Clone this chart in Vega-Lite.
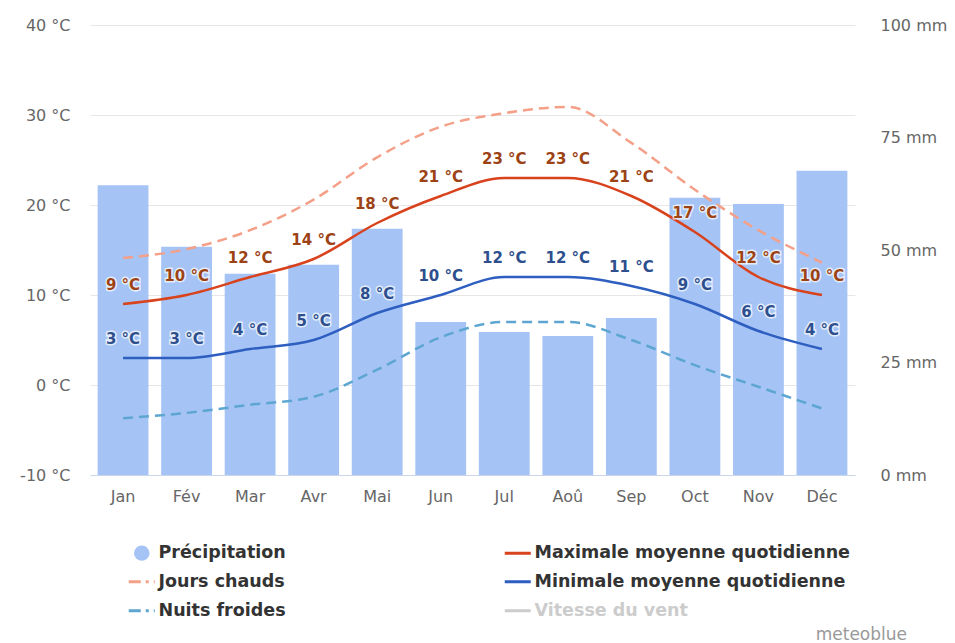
{
  "$schema": "https://vega.github.io/schema/vega-lite/v6.json",
  "width": 765,
  "height": 450,
  "autosize": {"type": "none"},
  "padding": {"left": 90, "top": 25, "right": 100, "bottom": 168},
  "background": "white",
  "config": {
    "view": {"stroke": null},
    "font": "DejaVu Sans",
    "axis": {"title": null, "labelFont": "DejaVu Sans", "labelFontSize": 16, "labelColor": "#666666", "ticks": false, "domain": false}
  },
  "title": {"text": "meteoblue", "orient": "bottom", "anchor": "end", "frame": "group", "font": "DejaVu Sans", "fontSize": 17, "fontWeight": "normal", "color": "#999999", "dx": 52, "offset": 7},
  "data": {
    "values": [
      {"month": "Jan", "precip": 64.4, "tmax": 9, "tmin": 3, "hot": 14.1, "cold": -3.7},
      {"month": "Fév", "precip": 50.7, "tmax": 10, "tmin": 3, "hot": 15.1, "cold": -3.1},
      {"month": "Mar", "precip": 44.7, "tmax": 12, "tmin": 4, "hot": 17.2, "cold": -2.2},
      {"month": "Avr", "precip": 46.7, "tmax": 14, "tmin": 5, "hot": 20.6, "cold": -1.3},
      {"month": "Mai", "precip": 54.7, "tmax": 18, "tmin": 8, "hot": 25.3, "cold": 1.7},
      {"month": "Jun", "precip": 34.0, "tmax": 21, "tmin": 10, "hot": 28.7, "cold": 5.3},
      {"month": "Jul", "precip": 31.8, "tmax": 23, "tmin": 12, "hot": 30.2, "cold": 7.0},
      {"month": "Aoû", "precip": 30.9, "tmax": 23, "tmin": 12, "hot": 30.9, "cold": 7.0},
      {"month": "Sep", "precip": 34.9, "tmax": 21, "tmin": 11, "hot": 26.9, "cold": 5.0},
      {"month": "Oct", "precip": 61.6, "tmax": 17, "tmin": 9, "hot": 21.7, "cold": 2.2},
      {"month": "Nov", "precip": 60.2, "tmax": 12, "tmin": 6, "hot": 17.2, "cold": -0.2},
      {"month": "Déc", "precip": 67.6, "tmax": 10, "tmin": 4, "hot": 13.6, "cold": -2.6}
    ]
  },
  "encoding": {
    "x": {
      "field": "month",
      "type": "nominal",
      "sort": null,
      "scale": {"paddingInner": 0.2, "paddingOuter": 0.12},
      "axis": {"labelAngle": 0, "domain": true, "domainColor": "#ccd6eb", "labelPadding": 13, "grid": false}
    }
  },
  "layer": [
    {
      "mark": {"type": "bar"},
      "encoding": {
        "y": {
          "field": "precip",
          "type": "quantitative",
          "scale": {"domain": [0, 100], "nice": false, "zero": true},
          "axis": {"orient": "right", "values": [0, 25, 50, 75, 100], "labelExpr": "datum.value + ' mm'", "grid": false, "labelPadding": 25, "labelAlign": "left"}
        },
        "color": {
          "datum": "Précipitation",
          "type": "nominal",
          "scale": {
            "domain": ["Précipitation", "Jours chauds", "Nuits froides", "Maximale moyenne quotidienne", "Minimale moyenne quotidienne", "Vitesse du vent"],
            "range": ["#a5c4f5", "#f4a088", "#5ea6d2", "#d8421c", "#2d5ec0", "#cccccc"]
          },
          "legend": {
            "orient": "none",
            "legendX": 43,
            "legendY": 519,
            "columns": 2,
            "columnPadding": 212,
            "rowPadding": 10,
            "title": null,
            "labelFont": "DejaVu Sans",
            "labelFontSize": 17.5,
            "labelFontWeight": "bold",
            "labelColor": "#333333",
            "labelOffset": 8,
            "labelLimit": 500,
            "symbolSize": 676,
            "encode": {
              "symbols": {
                "update": {
                  "shape": {"signal": "datum.value === 'Précipitation' ? 'circle' : 'stroke'"},
                  "size": {"signal": "datum.value === 'Précipitation' ? 240 : 676"},
                  "fill": {"signal": "scale('color', datum.value)"},
                  "stroke": {"signal": "scale('color', datum.value)"},
                  "strokeWidth": {"signal": "datum.value === 'Précipitation' ? 0 : 3"},
                  "strokeDash": {"signal": "(datum.value === 'Jours chauds' || datum.value === 'Nuits froides') ? [12, 5, 3, 5] : [1, 0]"},
                  "opacity": {"value": 1}
                }
              },
              "labels": {
                "update": {
                  "fill": {"signal": "datum.value === 'Vitesse du vent' ? '#cccccc' : '#333333'"}
                }
              }
            }
          }
        }
      }
    },
    {
      "encoding": {
        "y": {
          "type": "quantitative",
          "scale": {"domain": [-10, 40], "nice": false, "zero": false},
          "axis": {"orient": "left", "values": [-10, 0, 10, 20, 30, 40], "labelExpr": "datum.value + ' °C'", "grid": true, "gridColor": "#e6e6e6", "labelPadding": 20}
        }
      },
      "layer": [
        {
          "mark": {"type": "line", "interpolate": "monotone", "strokeWidth": 2.5, "strokeDash": [10, 6]},
          "encoding": {"y": {"field": "hot", "type": "quantitative"}, "color": {"datum": "Jours chauds", "type": "nominal"}}
        },
        {
          "mark": {"type": "line", "interpolate": "monotone", "strokeWidth": 2.5, "strokeDash": [10, 6]},
          "encoding": {"y": {"field": "cold", "type": "quantitative"}, "color": {"datum": "Nuits froides", "type": "nominal"}}
        },
        {
          "mark": {"type": "line", "interpolate": "monotone", "strokeWidth": 2.5},
          "encoding": {"y": {"field": "tmax", "type": "quantitative"}, "color": {"datum": "Maximale moyenne quotidienne", "type": "nominal"}}
        },
        {
          "mark": {"type": "line", "interpolate": "monotone", "strokeWidth": 2.5},
          "encoding": {"y": {"field": "tmin", "type": "quantitative"}, "color": {"datum": "Minimale moyenne quotidienne", "type": "nominal"}}
        },
        {
          "mark": {"type": "text", "dy": -19, "baseline": "middle", "font": "DejaVu Sans", "fontSize": 15, "fontWeight": "bold", "stroke": "white", "strokeWidth": 3, "strokeOpacity": 0.7, "fill": "white", "text": {"expr": "datum.tmax + ' °C'"}},
          "encoding": {"y": {"field": "tmax", "type": "quantitative"}}
        },
        {
          "mark": {"type": "text", "dy": -19, "baseline": "middle", "font": "DejaVu Sans", "fontSize": 15, "fontWeight": "bold", "fill": "#9c4316", "text": {"expr": "datum.tmax + ' °C'"}},
          "encoding": {"y": {"field": "tmax", "type": "quantitative"}}
        },
        {
          "mark": {"type": "text", "dy": -19, "baseline": "middle", "font": "DejaVu Sans", "fontSize": 15, "fontWeight": "bold", "stroke": "white", "strokeWidth": 3, "strokeOpacity": 0.7, "fill": "white", "text": {"expr": "datum.tmin + ' °C'"}},
          "encoding": {"y": {"field": "tmin", "type": "quantitative"}}
        },
        {
          "mark": {"type": "text", "dy": -19, "baseline": "middle", "font": "DejaVu Sans", "fontSize": 15, "fontWeight": "bold", "fill": "#2e4f8e", "text": {"expr": "datum.tmin + ' °C'"}},
          "encoding": {"y": {"field": "tmin", "type": "quantitative"}}
        }
      ]
    }
  ],
  "resolve": {"scale": {"y": "independent"}}
}
